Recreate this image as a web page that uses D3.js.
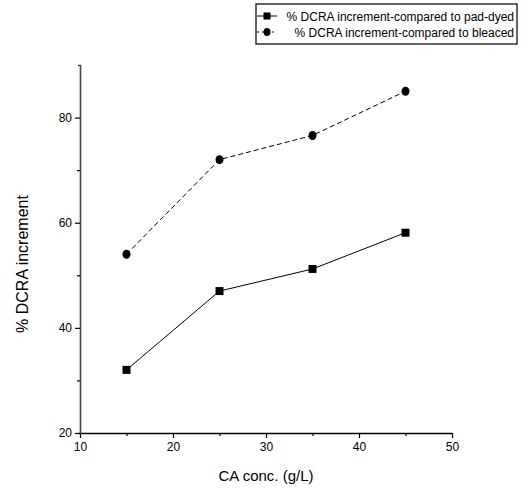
<!DOCTYPE html>
<html>
<head>
<meta charset="utf-8">
<script src="https://cdn.jsdelivr.net/npm/d3@7"></script>
<style>
  html, body { margin: 0; padding: 0; background: #fff; }
  svg { display: block; font-family: 'Liberation Sans', Arial, sans-serif; }
</style>
</head>
<body>
<div id="chart"></div>
<script>
'use strict'

var concentrations = [15, 25, 35, 45]
var padDyedValues = [32, 47, 51.2, 58.1]
var bleachedValues = [54, 72, 76.6, 85]
var seriesNames = [
  '% DCRA increment-compared to pad-dyed',
  '% DCRA increment-compared to bleaced'
]
var xMajorTicks = [10, 20, 30, 40, 50]
var xMinorTicks = [15, 25, 35, 45]
var yMajorTicks = [20, 40, 60, 80]
var yMinorTicks = [30, 50, 70]

var width = 524
var height = 488
var margin = { top: 65, right: 72, bottom: 55, left: 80 }

var svg = d3
  .select('#chart')
  .append('svg')
  .attr('width', width)
  .attr('height', height)

var x = d3
  .scaleLinear()
  .domain([10, 50])
  .range([margin.left, width - margin.right])

var y = d3
  .scaleLinear()
  .domain([20, 90])
  .range([height - margin.bottom, margin.top])

// axes: major ticks with labels, minor ticks without
var xAxis = svg
  .append('g')
  .attr('transform', 'translate(0,' + y(20) + ')')
  .call(
    d3
      .axisBottom(x)
      .tickValues(xMajorTicks)
      .tickSize(5)
      .tickSizeOuter(0)
      .tickPadding(4)
  )
xAxis.select('.domain').attr('stroke', '#000').attr('stroke-width', 1.3)
xAxis.selectAll('.tick line').attr('stroke', '#000').attr('stroke-width', 1.2)
xAxis
  .selectAll('text')
  .attr('font-size', '12px')
  .attr('font-family', "'Liberation Sans', Arial, sans-serif")
  .attr('fill', '#000')

svg
  .append('g')
  .attr('transform', 'translate(0,' + y(20) + ')')
  .call(d3.axisBottom(x).tickValues(xMinorTicks).tickSize(3).tickFormat(''))
  .call(function(g) {
    g.select('.domain').remove()
    g.selectAll('.tick line').attr('stroke', '#000').attr('stroke-width', 1.2)
  })

var yAxis = svg
  .append('g')
  .attr('transform', 'translate(' + x(10) + ',0)')
  .call(
    d3
      .axisLeft(y)
      .tickValues(yMajorTicks)
      .tickSize(5)
      .tickSizeOuter(2)
      .tickPadding(3)
  )
yAxis.select('.domain').attr('stroke', '#444').attr('stroke-width', 1.6)
yAxis.selectAll('.tick line').attr('stroke', '#000').attr('stroke-width', 1.2)
yAxis
  .selectAll('text')
  .attr('font-size', '12px')
  .attr('font-family', "'Liberation Sans', Arial, sans-serif")
  .attr('fill', '#000')

svg
  .append('g')
  .attr('transform', 'translate(' + x(10) + ',0)')
  .call(d3.axisLeft(y).tickValues(yMinorTicks).tickSize(3).tickFormat(''))
  .call(function(g) {
    g.select('.domain').remove()
    g.selectAll('.tick line').attr('stroke', '#000').attr('stroke-width', 1.2)
  })

// axis titles
svg
  .append('text')
  .attr('x', (x(10) + x(50)) / 2)
  .attr('y', 481)
  .attr('text-anchor', 'middle')
  .attr('font-size', '15px')
  .text('CA conc. (g/L)')

svg
  .append('text')
  .attr('transform', 'translate(28,264) rotate(-90)')
  .attr('text-anchor', 'middle')
  .attr('font-size', '16px')
  .text('% DCRA increment')

// series
var line = d3
  .line()
  .x(function(d) {
    return x(d[0])
  })
  .y(function(d) {
    return y(d[1])
  })

var padDyed = concentrations.map(function(c, i) {
  return [c, padDyedValues[i]]
})
var bleached = concentrations.map(function(c, i) {
  return [c, bleachedValues[i]]
})

svg
  .append('path')
  .datum(bleached)
  .attr('fill', 'none')
  .attr('stroke', '#000')
  .attr('stroke-width', 1)
  .attr('stroke-dasharray', '5,3')
  .attr('d', line)

svg
  .append('path')
  .datum(padDyed)
  .attr('fill', 'none')
  .attr('stroke', '#000')
  .attr('stroke-width', 1)
  .attr('d', line)

svg
  .selectAll('.circ')
  .data(bleached)
  .enter()
  .append('ellipse')
  .attr('cx', function(d) {
    return x(d[0])
  })
  .attr('cy', function(d) {
    return y(d[1])
  })
  .attr('rx', 4)
  .attr('ry', 4.5)
  .attr('fill', '#000')

svg
  .selectAll('.sq')
  .data(padDyed)
  .enter()
  .append('rect')
  .attr('x', function(d) {
    return x(d[0]) - 4
  })
  .attr('y', function(d) {
    return y(d[1]) - 4
  })
  .attr('width', 8)
  .attr('height', 8)
  .attr('fill', '#000')

// legend
var legend = svg.append('g').attr('transform', 'translate(256,4)')
legend
  .append('rect')
  .attr('x', 0)
  .attr('y', 0)
  .attr('width', 261)
  .attr('height', 40)
  .attr('fill', '#fff')
  .attr('stroke', '#000')
  .attr('stroke-width', 1.2)

legend
  .append('line')
  .attr('x1', 1)
  .attr('x2', 21)
  .attr('y1', 12)
  .attr('y2', 12)
  .attr('stroke', '#000')
legend
  .append('rect')
  .attr('x', 7.5)
  .attr('y', 8.5)
  .attr('width', 7)
  .attr('height', 7)
  .attr('fill', '#000')

legend
  .append('line')
  .attr('x1', 1)
  .attr('x2', 21)
  .attr('y1', 28)
  .attr('y2', 28)
  .attr('stroke', '#000')
  .attr('stroke-dasharray', '2,3')
legend
  .append('ellipse')
  .attr('cx', 11)
  .attr('cy', 28)
  .attr('rx', 3.5)
  .attr('ry', 4)
  .attr('fill', '#000')

legend
  .selectAll('.label')
  .data(seriesNames)
  .enter()
  .append('text')
  .attr('x', 258)
  .attr('y', function(d, i) {
    return 17 + i * 16
  })
  .attr('text-anchor', 'end')
  .attr('font-size', '12px')
  .text(function(d) {
    return d
  })
</script>
</body>
</html>
